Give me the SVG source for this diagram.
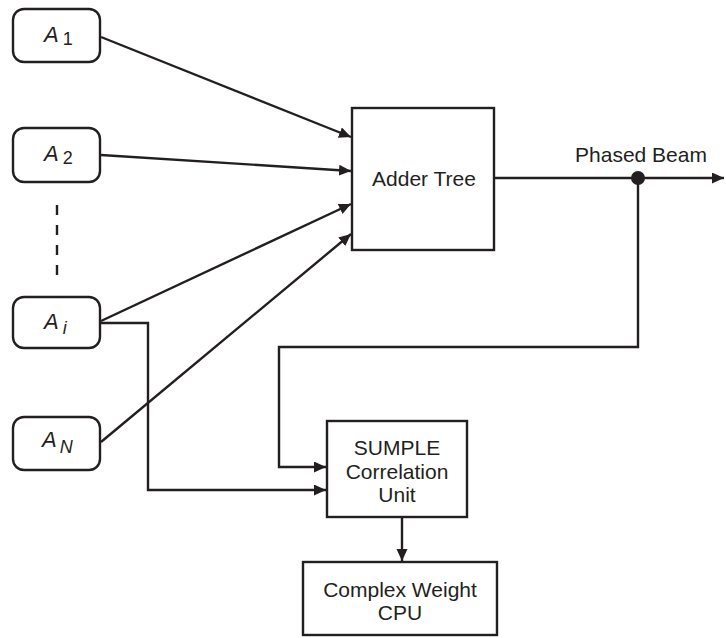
<svg xmlns="http://www.w3.org/2000/svg" width="726" height="638" viewBox="0 0 726 638">
  <style>
    .box { fill: #fff; stroke: #231f20; stroke-width: 2.4; }
    .wire { fill: none; stroke: #231f20; stroke-width: 2.4; }
    .lbl { font-family: "Liberation Sans", Arial, sans-serif; font-size: 21px; fill: #231f20; }
    .mid { text-anchor: middle; }
    .ant { font-family: "Liberation Sans", Arial, sans-serif; font-size: 22px; fill: #231f20; }
    .it { font-style: italic; }
    .sub { font-size: 18px; }
  </style>
  <defs>
    <marker id="arrow" markerUnits="userSpaceOnUse" markerWidth="14" markerHeight="12" refX="12" refY="5.5" orient="auto">
      <path d="M0,0 L12,5.5 L0,11 Z" fill="#231f20"/>
    </marker>
  </defs>

  <!-- antenna elements -->
  <g id="a1">
    <rect class="box" x="13" y="9" width="87" height="53" rx="11"/>
    <text class="ant" x="44" y="42"><tspan class="it">A</tspan><tspan class="sub" dx="4" dy="3">1</tspan></text>
  </g>
  <g id="a2">
    <rect class="box" x="13" y="128" width="87" height="54" rx="11"/>
    <text class="ant" x="44" y="161"><tspan class="it">A</tspan><tspan class="sub" dx="4" dy="3">2</tspan></text>
  </g>
  <g id="ellipsis">
    <line class="wire" x1="57" y1="205" x2="57" y2="278" stroke-dasharray="10 10"/>
  </g>
  <g id="ai">
    <rect class="box" x="13" y="297" width="87" height="51" rx="11"/>
    <text class="ant" x="44" y="329"><tspan class="it">A</tspan><tspan class="sub it" dx="4" dy="5">i</tspan></text>
  </g>
  <g id="an">
    <rect class="box" x="13" y="417" width="87" height="53" rx="11"/>
    <text class="ant" x="42" y="447"><tspan class="it">A</tspan><tspan class="sub it" dx="3" dy="6">N</tspan></text>
  </g>

  <!-- processing blocks -->
  <g id="adder">
    <rect class="box" x="352" y="108" width="142" height="142"/>
    <text class="lbl mid" x="424" y="186">Adder Tree</text>
  </g>
  <g id="sumple">
    <rect class="box" x="327" y="421" width="140" height="96"/>
    <text class="lbl mid" x="397" y="455">SUMPLE</text>
    <text class="lbl mid" x="397" y="479">Correlation</text>
    <text class="lbl mid" x="397" y="502">Unit</text>
  </g>
  <g id="cpu">
    <rect class="box" x="303" y="562" width="194" height="73"/>
    <text class="lbl mid" x="400" y="597">Complex Weight</text>
    <text class="lbl mid" x="400" y="620">CPU</text>
  </g>
  <g id="beam-label">
    <text class="lbl mid" x="641" y="162">Phased Beam</text>
  </g>

  <!-- connectors -->
  <g id="connectors">
    <line class="wire" x1="101" y1="37" x2="351" y2="137" marker-end="url(#arrow)"/>
    <line class="wire" x1="101" y1="155" x2="351" y2="171" marker-end="url(#arrow)"/>
    <line class="wire" x1="101" y1="321" x2="351" y2="204" marker-end="url(#arrow)"/>
    <line class="wire" x1="101" y1="442" x2="351" y2="234" marker-end="url(#arrow)"/>
    <polyline class="wire" points="101,323 148,323 148,490 326,490" marker-end="url(#arrow)"/>
    <line class="wire" x1="494" y1="178" x2="724" y2="178" marker-end="url(#arrow)"/>
    <polyline class="wire" points="638,178 638,347 279,347 279,467 326,467" marker-end="url(#arrow)"/>
    <line class="wire" x1="402" y1="517" x2="402" y2="561" marker-end="url(#arrow)"/>
    <circle cx="638" cy="178" r="7" fill="#231f20"/>
  </g>
</svg>
